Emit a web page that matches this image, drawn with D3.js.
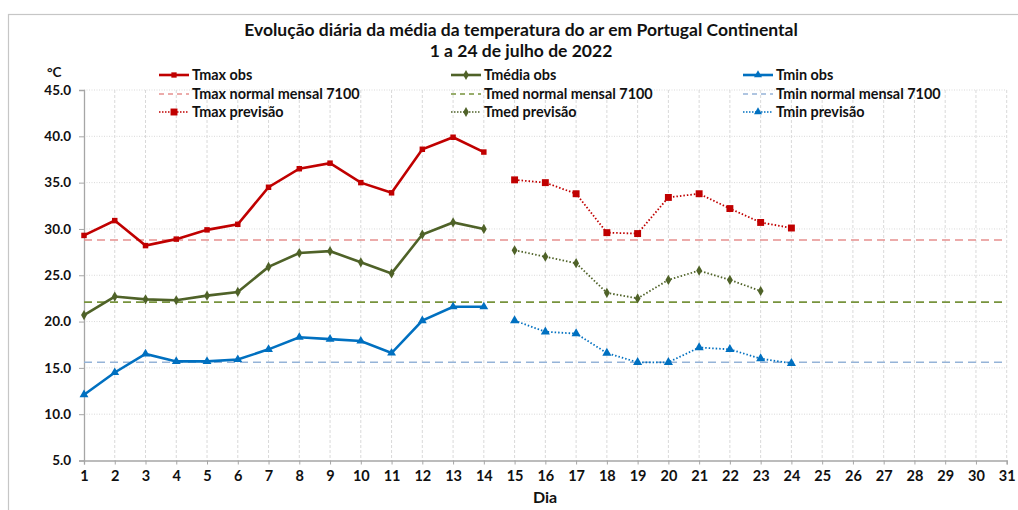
<!DOCTYPE html>
<html>
<head>
<meta charset="utf-8">
<script src="https://cdn.jsdelivr.net/npm/d3@7"></script>
<style>
  body { margin: 0; background: #fff; }
  text { font-family: Lato, "Open Sans", sans-serif; font-weight: bold; fill: #111; }
</style>
</head>
<body>
<div id="chart"></div>
<script>
// days 1..31 on the axis
const days = d3.range(1, 32);
const yTicks = [5, 10, 15, 20, 25, 30, 35, 40, 45];

// observed, days 1-14
const obsDays = d3.range(1, 15);
const tmaxObs = [29.3, 30.9, 28.2, 28.9, 29.9, 30.5, 34.5, 36.5, 37.1, 35.0, 33.9, 38.6, 39.9, 38.3];
const tmedObs = [20.7, 22.7, 22.4, 22.3, 22.8, 23.2, 25.9, 27.4, 27.6, 26.4, 25.2, 29.4, 30.7, 30.0];
const tminObs = [12.1, 14.5, 16.5, 15.7, 15.7, 15.9, 17.0, 18.3, 18.1, 17.9, 16.6, 20.1, 21.6, 21.6];

// forecast
const tmaxPrevDays = d3.range(15, 25);
const tmaxPrev = [35.3, 35.0, 33.8, 29.6, 29.5, 33.4, 33.8, 32.2, 30.7, 30.1];
const tmedPrevDays = d3.range(15, 24);
const tmedPrev = [27.7, 27.0, 26.3, 23.1, 22.5, 24.5, 25.5, 24.5, 23.3];
const tminPrevDays = d3.range(15, 25);
const tminPrev = [20.1, 18.9, 18.7, 16.6, 15.6, 15.6, 17.2, 17.0, 16.0, 15.5];

// 1971-2000 monthly normals
const tmaxNormal = 28.8;
const tmedNormal = 22.1;
const tminNormal = 15.6;

const red = '#c00000', green = '#4f6228', blue = '#0070c0';
const redLight = '#e6908f', greenLight = '#77933c', blueLight = '#95b3d7';

const width = 1018, height = 510;
const svg = d3.select('#chart').append('svg')
    .attr('width', width)
    .attr('height', height);

// chart frame
svg.append('rect')
    .attr('x', 8.5).attr('y', 14.5)
    .attr('width', width + 20).attr('height', height + 20)
    .attr('fill', 'none')
    .attr('stroke', '#c6c6c6')
    .attr('stroke-width', 1.2);

const x = d3.scaleLinear().domain([1, 31]).range([84, 1006.7]);
const y = d3.scaleLinear().domain([5, 45]).range([460.5, 90]);

// grid
svg.append('g').selectAll('line')
    .data(days.slice(1))
    .enter().append('line')
    .attr('x1', d => x(d)).attr('x2', d => x(d))
    .attr('y1', y(45)).attr('y2', y(5))
    .attr('stroke', '#d9d9d9')
    .attr('stroke-dasharray', '3,2');

svg.append('g').selectAll('line')
    .data(yTicks.slice(1))
    .enter().append('line')
    .attr('x1', x(1)).attr('x2', x(31))
    .attr('y1', d => y(d)).attr('y2', d => y(d))
    .attr('stroke', '#d9d9d9')
    .attr('stroke-dasharray', '1,1.5');

// axes
const yAxis = svg.append('g')
    .attr('transform', 'translate(' + x(1) + ',0)')
    .call(d3.axisLeft(y).tickValues(yTicks).tickFormat(d3.format('.1f')).tickSize(5).tickPadding(8));
const xAxis = svg.append('g')
    .attr('transform', 'translate(0,' + y(5) + ')')
    .call(d3.axisBottom(x).tickValues(days).tickFormat(d3.format('d')).tickSize(4).tickPadding(6));

[yAxis, xAxis].forEach(function(a) {
    a.select('.domain').attr('stroke', '#a6a6a6').attr('stroke-width', 1.3);
    a.selectAll('.tick line').attr('stroke', '#a6a6a6');
    a.selectAll('.tick text')
        .attr('font-family', 'Lato, sans-serif')
        .attr('font-weight', 'bold')
        .attr('font-size', 13.5)
        .attr('fill', '#111');
});
xAxis.selectAll('.tick text').attr('font-size', 14.5);

// normals
[[tmaxNormal, redLight], [tmedNormal, greenLight], [tminNormal, blueLight]].forEach(function(n) {
    svg.append('line')
        .attr('x1', x(1)).attr('x2', x(31))
        .attr('y1', y(n[0])).attr('y2', y(n[0]))
        .attr('stroke', n[1])
        .attr('stroke-width', 1.6)
        .attr('stroke-dasharray', '8,5');
});

const line = d3.line().x(d => x(d[0])).y(d => y(d[1]));
const zip = (a, b) => a.map((d, i) => [d, b[i]]);

function drawMarkers(pts, shape, color, size) {
    svg.append('g').selectAll('path')
        .data(pts)
        .enter().append('path')
        .attr('transform', d => 'translate(' + x(d[0]) + ',' + y(d[1]) + ')')
        .attr('d', d3.symbol().type(shape).size(size))
        .attr('fill', color);
}

function drawSeries(xs, vals, color, dashed, shape, size) {
    const pts = zip(xs, vals);
    svg.append('path')
        .datum(pts)
        .attr('d', line)
        .attr('fill', 'none')
        .attr('stroke', color)
        .attr('stroke-width', dashed ? 1.8 : 2.6)
        .attr('stroke-dasharray', dashed ? '1.5,2' : null);
    drawMarkers(pts, shape, color, size);
}

drawSeries(obsDays, tmaxObs, red, false, d3.symbolSquare, 30);
drawSeries(obsDays, tmedObs, green, false, d3.symbolDiamond, 30);
drawSeries(obsDays, tminObs, blue, false, d3.symbolTriangle, 34);
drawSeries(tmaxPrevDays, tmaxPrev, red, true, d3.symbolSquare, 48);
drawSeries(tmedPrevDays, tmedPrev, green, true, d3.symbolDiamond, 30);
drawSeries(tminPrevDays, tminPrev, blue, true, d3.symbolTriangle, 36);

// titles
svg.append('text')
    .attr('x', 521).attr('y', 36)
    .attr('text-anchor', 'middle')
    .attr('font-size', 17.5)
    .text('Evolução diária da média da temperatura do ar em Portugal Continental');
svg.append('text')
    .attr('x', 521).attr('y', 57)
    .attr('text-anchor', 'middle')
    .attr('font-size', 17.5)
    .text('1 a 24 de julho de 2022');
svg.append('text')
    .attr('x', 47).attr('y', 77)
    .attr('font-size', 13.5)
    .text('°C');
svg.append('text')
    .attr('x', 545).attr('y', 503)
    .attr('text-anchor', 'middle')
    .attr('font-size', 16)
    .text('Dia');

// legend
const legendItems = [
    { label: 'Tmax obs', color: red, kind: 'solid', shape: d3.symbolSquare, col: 0, row: 0 },
    { label: 'Tmax normal mensal 7100', color: redLight, kind: 'dash', col: 0, row: 1 },
    { label: 'Tmax previsão', color: red, kind: 'dot', shape: d3.symbolSquare, col: 0, row: 2 },
    { label: 'Tmédia obs', color: green, kind: 'solid', shape: d3.symbolDiamond, col: 1, row: 0 },
    { label: 'Tmed normal mensal 7100', color: greenLight, kind: 'dash', col: 1, row: 1 },
    { label: 'Tmed previsão', color: green, kind: 'dot', shape: d3.symbolDiamond, col: 1, row: 2 },
    { label: 'Tmin obs', color: blue, kind: 'solid', shape: d3.symbolTriangle, col: 2, row: 0 },
    { label: 'Tmin normal mensal 7100', color: blueLight, kind: 'dash', col: 2, row: 1 },
    { label: 'Tmin previsão', color: blue, kind: 'dot', shape: d3.symbolTriangle, col: 2, row: 2 }
];
const colX = [159, 451, 743];
const rowY = [75, 94, 112];

const legend = svg.append('g').selectAll('g')
    .data(legendItems)
    .enter().append('g')
    .attr('transform', d => 'translate(' + colX[d.col] + ',' + rowY[d.row] + ')');

legend.append('line')
    .attr('x1', 0).attr('x2', 30)
    .attr('stroke', d => d.color)
    .attr('stroke-width', d => d.kind === 'solid' ? 2.6 : 1.6)
    .attr('stroke-dasharray', d => d.kind === 'dash' ? '5,4' : d.kind === 'dot' ? '1.5,1.5' : null);

legend.filter(d => d.shape)
    .append('path')
    .attr('transform', 'translate(15,0)')
    .attr('d', d => d3.symbol().type(d.shape).size(d.kind === 'dot' && d.col === 0 ? 48 : 28)())
    .attr('fill', d => d.color);

legend.append('text')
    .attr('x', 33).attr('y', 5)
    .attr('font-size', 14.4)
    .text(d => d.label);
</script>
</body>
</html>
